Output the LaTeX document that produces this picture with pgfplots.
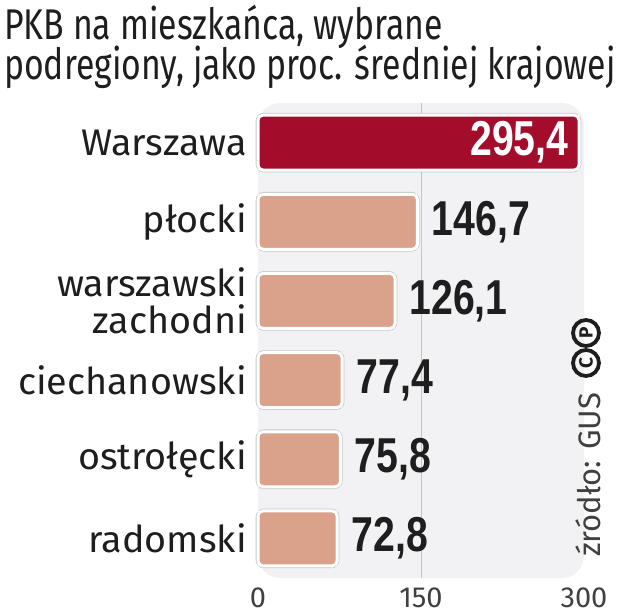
\documentclass[border=0pt]{standalone}
\usepackage{pgfplots}
\pgfplotsset{compat=1.18}
\usepackage{fontspec}
\setmainfont{Fira Sans}
\newfontfamily\titlefont[FakeStretch=0.785]{Fira Sans}
\newfontfamily\labfont[FakeStretch=1.02]{Fira Sans}
\newfontfamily\valfont[FakeStretch=0.8]{Liberation Sans}
\definecolor{barred}{HTML}{A30D2B}
\definecolor{barsal}{HTML}{DBA28B}
\definecolor{panel}{HTML}{F2F2F4}
\definecolor{txt}{HTML}{1E1E1E}
\definecolor{gridc}{HTML}{C4C4C4}
\pgfplotstableread{
x y lab
295.4 1 {295,4}
}\redtab
\pgfplotstableread{
x y lab
146.7 2 {146,7}
126.1 3 {126,1}
77.4 4 {77,4}
75.8 5 {75,8}
72.8 6 {72,8}
}\saltab
\pgfplotstableread{
x y
295.4 1
146.7 2
126.1 3
77.4 4
75.8 5
72.8 6
}\alltab
\begin{document}
\begin{tikzpicture}[x=1pt,y=1pt]
\path[use as bounding box] (0,0) rectangle (620,615);
\node[anchor=base west, inner sep=0pt, text=txt, font=\titlefont\fontsize{43}{43}\selectfont] at (4,575) {PKB na mieszkańca, wybrane};
\node[anchor=base west, inner sep=0pt, text=txt, font=\titlefont\fontsize{43}{43}\selectfont] at (4,535) {podregiony, jako proc. średniej krajowej};
\begin{axis}[
  at={(258pt,37pt)}, anchor=south west,
  scale only axis, width=326pt, height=475pt,
  xmin=0, xmax=300, ymin=0.5, ymax=6.5, y dir=reverse,
  axis line style={draw=none},
  axis background/.style={fill=panel, rounded corners=22pt},
  major tick length=0pt,
  xtick={0,150,300}, xticklabels={0,150,300},
  xticklabel style={font=\fontsize{29}{29}\selectfont, text=txt!85, anchor=north, inner sep=0pt, yshift=-10pt},
  extra x ticks={150}, extra x tick labels={},
  extra x tick style={grid=major, major grid style={gridc, line width=0.9pt}},
  ytick={1,2,3,4,5,6},
  yticklabels={Warszawa, płocki, {warszawski\\zachodni}, ciechanowski, ostrołęcki, radomski},
  yticklabel style={font=\labfont\fontsize{37}{37}\selectfont, text=txt, align=right, anchor=east, inner sep=0pt, xshift=-11pt},
  clip=false,
]
\addplot[xbar, bar width=55pt, bar shift=0pt, draw=black!22, line width=4.6pt, rounded corners=6pt, fill=none] table[x=x, y=y] {\alltab};
\addplot[xbar, bar width=55pt, bar shift=0pt, fill=barred, draw=white, line width=3pt, rounded corners=5pt,
  point meta=explicit symbolic, nodes near coords,
  every node near coord/.append style={anchor=east, xshift=-9pt, text=white, inner sep=0pt, font=\valfont\bfseries\fontsize{49}{49}\selectfont}]
  table[x=x, y=y, meta=lab] {\redtab};
\addplot[xbar, bar width=55pt, bar shift=0pt, fill=barsal, draw=white, line width=3pt, rounded corners=5pt,
  point meta=explicit symbolic, nodes near coords,
  every node near coord/.append style={anchor=west, xshift=13pt, text=txt, inner sep=0pt, font=\valfont\bfseries\fontsize{49}{49}\selectfont}]
  table[x=x, y=y, meta=lab] {\saltab};
\end{axis}
\node[rotate=90, anchor=center, inner sep=0pt, text=txt!85, font=\fontsize{31}{31}\selectfont] at (588,140) {źródło: GUS};
\node[rotate=90, circle, draw=txt, line width=3.8pt, inner sep=0pt, minimum size=26pt, text=txt, font=\bfseries\fontsize{19}{19}\selectfont] at (586,252) {C};
\node[rotate=90, circle, draw=txt, line width=3.8pt, inner sep=0pt, minimum size=26pt, text=txt, font=\bfseries\fontsize{19}{19}\selectfont] at (586,282) {P};
\end{tikzpicture}
\end{document}
